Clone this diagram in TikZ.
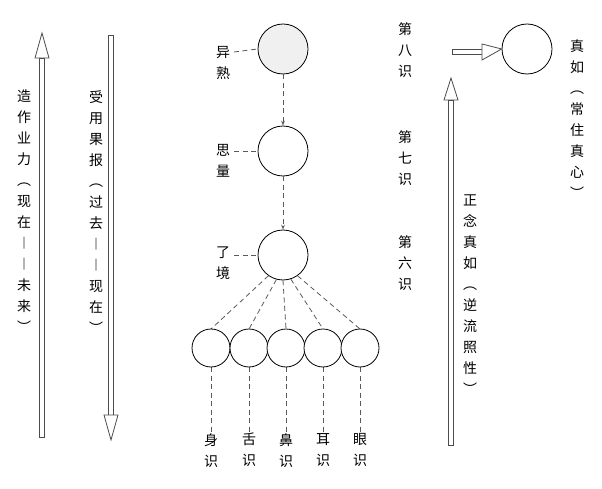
\documentclass[tikz,border=0pt]{standalone}
\usepackage{fontspec}
\newfontfamily\cjk{Noto Sans CJK SC}
\usetikzlibrary{arrows.meta,calc}
\begin{document}
\begin{tikzpicture}[x=1pt,y=-1pt,
  vt/.style={font=\cjk\fontsize{14}{21}\selectfont,align=center,inner sep=0pt,anchor=north,text=black},
  big/.style={circle,draw,minimum size=50pt,inner sep=0pt,line width=0.8pt},
  small/.style={circle,draw,fill=white,minimum size=38pt,inner sep=0pt,line width=0.8pt},
  dsh/.style={dash pattern=on 5pt off 3.5pt,line width=0.8pt,gray!70!black},
  shaftv/.style={fill=white,draw=gray!60!black,line width=0.8pt},
  head/.style={fill=white,line width=0.8pt,draw=gray!60!black}]
\useasboundingbox (0,0) rectangle (602,489);
% left arrows
\draw[shaftv] (39.5,437) rectangle (44.5,58);
\draw[head] (35,58) -- (42,33) -- (49,58) -- cycle;
\draw[shaftv] (108.5,35) rectangle (113.5,415);
\draw[head] (104,415) -- (111,440) -- (118,415) -- cycle;
\node[vt] (t1) at (24,90) {造\\作\\业\\力\\︵\\现\\在\\︱\\︱\\未\\来\\︶};
\node[vt] (t2) at (96,90) {受\\用\\果\\报\\︵\\过\\去\\︱\\︱\\现\\在\\︶};
% circles
\node[big,fill=gray!12] (c8) at (283,49) {};
\node[big] (c7) at (283,151) {};
\node[big] (c6) at (283,255) {};
\draw[dsh,-{Stealth[length=5pt,open]}] (c8.south) -- (c7.north);
\draw[dsh,-{Stealth[length=5pt,open]}] (c7.south) -- (c6.north);
\node[vt,anchor=center] (l8) at (223,63) {异\\熟};
\node[vt,anchor=center] (l7) at (223,161) {思\\量};
\node[vt,anchor=center] (l6) at (223,263) {了\\境};
\draw[dsh] (234,52) -- (c8.west);
\draw[dsh] (234,151) -- (c7.west);
\draw[dsh] (234,255) -- (c6.west);
\foreach \i/\x/\lab in {1/211/身\\识,2/249/舌\\识,3/286/鼻\\识,4/323/耳\\识,5/360/眼\\识}{
  \coordinate (p\i) at (\x,348);
  \node[vt] (sl\i) at (\x,433) {\lab};
  \draw[dsh] (\x,367) -- (sl\i.north);
}
\foreach \i/\a in {1/235,2/255,3/270,4/288,5/305}{
  \draw[dsh] (c6.\a) -- ($(p\i)+(0,-19)$);
}
\foreach \i in {1,...,5}{\node[small] (s\i) at (p\i) {};}
% middle column labels
\node[vt] (d8) at (405,22) {第\\八\\识};
\node[vt] (d7) at (405,130) {第\\七\\识};
\node[vt] (d6) at (405,235) {第\\六\\识};
% right
\node[big] (cz) at (527,49) {};
\draw[shaftv] (452,49.5) rectangle (482,54.5);
\draw[head] (482,44) -- (cz.west) -- (482,60) -- cycle;
\draw[shaftv] (448.5,445) rectangle (453.5,100);
\draw[head] (444,100) -- (451,78) -- (458,100) -- cycle;
\node[vt] (t3) at (470,195) {正\\念\\真\\如\\︵\\逆\\流\\照\\性\\︶};
\node[vt] (t4) at (577,40) {真\\如\\︵\\常\\住\\真\\心\\︶};
\end{tikzpicture}
\end{document}
